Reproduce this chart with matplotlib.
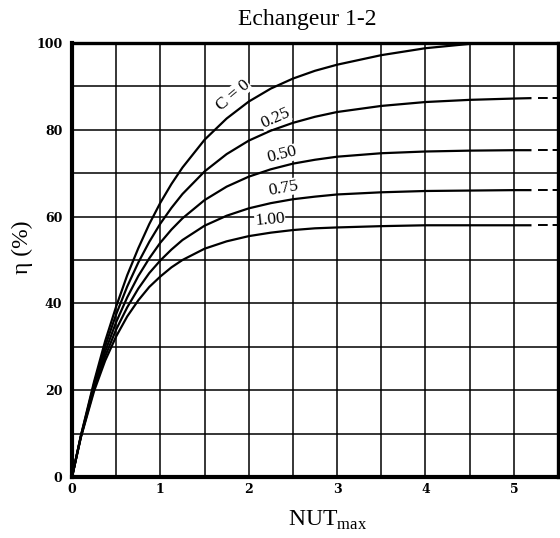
import matplotlib
matplotlib.use('Agg')
import matplotlib.pyplot as plt
import numpy as np

plt.rcParams['mathtext.fontset'] = 'custom'
plt.rcParams['mathtext.rm'] = 'Liberation Serif'

# NUT_max values where the curves were read
nut = [0, 0.1, 0.25, 0.375, 0.5, 0.625, 0.75, 0.875, 1.0, 1.125, 1.25, 1.5, 1.75,
       2.0, 2.25, 2.5, 2.75, 3.0, 3.5, 4.0, 4.5, 5.0, 5.2]

# efficacite (%) pour chaque C
eta_c0 = [0, 9.5, 22.0, 31.3, 39.3, 46.5, 52.7, 58.3, 63.2, 67.5, 71.3, 77.7, 82.6,
          86.5, 89.5, 91.8, 93.6, 95.0, 97.2, 98.8, 99.8]
eta_c025 = [0, 9.4, 21.5, 30.1, 37.5, 43.9, 49.4, 54.2, 58.4, 62.0, 65.2, 70.4, 74.4,
            77.5, 79.8, 81.6, 83.0, 84.1, 85.5, 86.4, 86.9, 87.2, 87.3]
eta_c050 = [0, 9.3, 20.9, 28.9, 35.7, 41.4, 46.3, 50.4, 54.0, 57.0, 59.6, 63.8, 66.9,
            69.2, 70.9, 72.2, 73.1, 73.8, 74.6, 75.0, 75.2, 75.3, 75.3]
eta_c075 = [0, 9.2, 20.4, 27.8, 34.0, 39.1, 43.4, 47.0, 49.9, 52.4, 54.6, 57.9, 60.2,
            61.9, 63.1, 64.0, 64.6, 65.1, 65.6, 65.9, 66.0, 66.1, 66.1]
eta_c100 = [0, 9.1, 19.8, 26.8, 32.4, 37.0, 40.7, 43.8, 46.2, 48.3, 50.0, 52.6, 54.3,
            55.5, 56.3, 56.9, 57.3, 57.5, 57.8, 58.0, 58.0, 58.0, 58.0]

curve_labels = ['C = 0', '0.25', '0.50', '0.75', '1.00']
# position du texte (NUT, eta) et angle
label_pos = [(1.82, 88.0), (2.30, 82.7), (2.38, 74.2), (2.39, 66.6), (2.24, 59.2)]
label_rot = [40, 24, 14, 10, 5]

x_ticks = [0, 1, 2, 3, 4, 5]
y_ticks = [0, 20, 40, 60, 80, 100]

fig = plt.figure(figsize=(5.6, 5.38), dpi=100)
ax = fig.add_axes([72 / 560, 1 - 477 / 538, 486 / 560, 434 / 538])

ax.set_xlim(0, 5.5)
ax.set_ylim(0, 100)

# grille
for gx in np.arange(0.5, 5.5, 0.5):
    ax.axvline(gx, color='black', lw=1.1, zorder=1)
for gy in np.arange(10, 100, 10):
    ax.axhline(gy, color='black', lw=1.1, zorder=1)

curves = [eta_c0, eta_c025, eta_c050, eta_c075, eta_c100]
for i, eta in enumerate(curves):
    ax.plot(nut[:len(eta)], eta, color='black', lw=1.6, zorder=3,
            solid_capstyle='butt', solid_joinstyle='round')
    if i > 0:
        # prolongement en pointillés
        ax.plot([5.27, 5.5], [eta[-1], eta[-1]], color='black', lw=1.4,
                dashes=(5, 2.5), zorder=3)

for txt, (px, py), rot in zip(curve_labels, label_pos, label_rot):
    ax.text(px, py, txt, fontsize=12.5, family='Liberation Serif',
            rotation=rot, ha='center', va='center', zorder=4,
            bbox=dict(facecolor='white', edgecolor='none', pad=0.3))

ax.set_xticks(x_ticks)
ax.set_yticks(y_ticks)
ax.tick_params(length=0, labelsize=9)
ax.tick_params(axis='x', pad=4)
ax.tick_params(axis='y', pad=7)
for lab in ax.get_xticklabels() + ax.get_yticklabels():
    lab.set_family('DejaVu Serif')
    lab.set_fontweight('bold')

ax.spines['left'].set_linewidth(3.0)
ax.spines['bottom'].set_linewidth(3.0)
ax.spines['top'].set_linewidth(2.4)
ax.spines['right'].set_linewidth(2.4)
for sp in ax.spines.values():
    sp.set_zorder(5)

ax.set_xlabel(r'NUT$_{\mathrm{max}}$', fontsize=17, family='Liberation Serif')
ax.xaxis.set_label_coords((328 - 72) / 486, (477 - 520) / 434)
ax.xaxis.label.set_va('center')
ax.set_ylabel('η (%)', fontsize=17, family='Liberation Serif')
ax.yaxis.set_label_coords((22 - 72) / 486, (477 - 247) / 434)
ax.yaxis.label.set_va('center')

ax.text((307 - 72) / 486, (477 - 20) / 434, 'Echangeur 1-2', transform=ax.transAxes,
        ha='center', va='center', fontsize=17, family='Liberation Serif')

fig.savefig('out.png', dpi=100)
